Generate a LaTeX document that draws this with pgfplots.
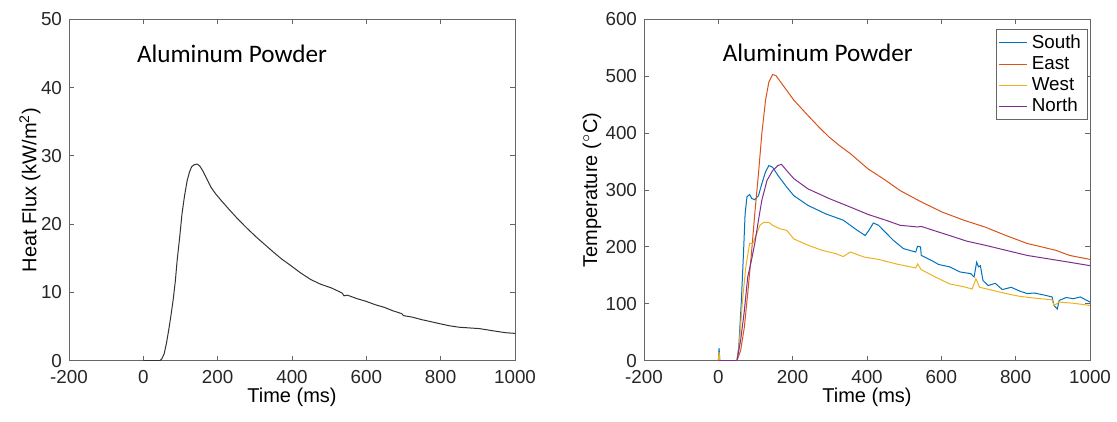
\documentclass[border=0pt]{standalone}
\usepackage{pgfplots}
\pgfplotsset{compat=1.18}
\usepackage{fontspec}
\setmainfont{Liberation Sans}
\newfontfamily\calfont{Carlito}

\definecolor{mblue}{rgb}{0,0.447,0.741}
\definecolor{morange}{rgb}{0.85,0.325,0.098}
\definecolor{myellow}{rgb}{0.929,0.694,0.125}
\definecolor{mpurple}{rgb}{0.494,0.184,0.556}

\pgfplotsset{
  mstyle/.style={
    scale only axis,
    width=223pt, height=170.7pt,
    anchor=south west,
    xmin=-200, xmax=1000,
    xtick={-200,0,200,400,600,800,1000},
    tick align=inside,
    major tick length=2.3pt,
    axis line style={black!60, line width=0.4pt},
    every tick/.style={black!60, line width=0.4pt},
    tick label style={font=\fontsize{9.4}{11}\selectfont, text=black!85},
    xticklabel style={yshift=-1.5pt},
    label style={font=\fontsize{10.5}{12}\selectfont, text=black!85},
    every axis x label/.style={at={(rel axis cs:0.5,0)}, anchor=center, yshift=-18.2pt},
    /pgf/number format/assume math mode=true,
    /pgf/number format/1000 sep={},
    scaled ticks=false,
    xlabel={Time (ms)},
  }
}

\begin{document}
\begin{tikzpicture}
\useasboundingbox (0,0) rectangle (558.5pt,211pt);

% left: heat flux
\begin{axis}[mstyle, at={(34.5pt,30.65pt)},
  ymin=0, ymax=50, ytick={0,10,20,30,40,50},
  every axis y label/.style={at={(rel axis cs:0,0.5)}, rotate=90, anchor=center, yshift=19.5pt},
  ylabel={Heat Flux (kW/m\textsuperscript{2})},
]
\addplot[black!80, line width=0.5pt] coordinates {
(0,0)(45,0)(50,0.3)(56,1)(62,2.5)(68,4.4)(74,6.5)(80,8.8)(86,11.6)(91,14.7)
(98,18.2)(104,21.5)(111,24.2)(118,26.4)(124,27.6)(130,28.4)(137,28.7)
(145,28.8)(152,28.5)(159,27.9)(170,26.7)(182,25.4)(195,24.4)(209,23.5)
(230,22.2)(250,21.0)(277,19.5)(304,18.1)(327,17.0)(350,15.9)(372,14.9)
(395,14.0)(422,12.9)(450,11.9)(477,11.2)(504,10.7)(520,10.3)(535,9.9)
(540,9.5)(549,9.6)(574,9.1)(599,8.7)(624,8.2)(649,7.8)(672,7.3)(695,6.9)
(700,6.6)(722,6.4)(750,6.0)(775,5.7)(799,5.4)(825,5.1)(850,4.9)(877,4.8)
(904,4.7)(927,4.5)(950,4.3)(975,4.1)(1000,4.0)
};
\node[anchor=base west, font=\calfont\fontsize{12.6}{14}\selectfont] at (axis cs:-36,43.7) {Aluminum Powder};
\end{axis}

% right: temperature
\begin{axis}[mstyle, at={(322pt,30.65pt)},
  ymin=0, ymax=600, ytick={0,100,200,300,400,500,600},
  every axis y label/.style={at={(rel axis cs:0,0.5)}, rotate=90, anchor=center, yshift=26pt},
  ylabel={Temperature ($^\circ$C)},
  legend cell align=left,
  legend style={at={(rel axis cs:0.994,0.971)}, anchor=north east,
    draw=black!60, line width=0.4pt, font=\fontsize{9.4}{11}\selectfont,
    inner xsep=1pt, inner ysep=0.5pt, row sep=-1.5pt},
  legend image code/.code={\draw[#1] (0cm,0cm) -- (0.5cm,0cm);},
]
\addplot[mblue, line width=0.5pt] coordinates {
(0,0)(2,22)(4,0)(50,0)(55,24)(62,106)(68,194)(72,258)(77,288)(84,292)(90,285)
(98,283)(108,290)(117,311)(127,332)(136,343)(146,340)(160,326)(184,305)
(203,290)(241,273)(289,258)(336,247)(374,229)(395,220)(405,229)(417,242)
(431,238)(470,212)(498,197)(531,191)(536,201)(544,200)(546,185)(574,176)
(593,169)(622,165)(650,156)(679,153)(688,147)(695,173)(700,165)(705,167)
(712,141)(726,132)(745,136)(764,125)(788,129)(812,122)(831,118)(850,119)
(879,115)(898,112)(903,97)(912,91)(917,106)(936,111)(955,109)(974,112)(1000,103)
};
\addlegendentry{South}
\addplot[morange, line width=0.5pt] coordinates {
(0,0)(50,0)(60,18)(70,59)(79,118)(89,188)(98,258)(108,329)(117,399)(127,458)
(136,490)(146,503)(155,501)(174,484)(203,458)(241,431)(270,411)(298,393)(326,378)(355,364)
(403,337)(450,317)(489,299)(546,279)(603,261)(660,247)(717,235)(774,220)
(831,206)(870,200)(908,194)(945,185)(1000,178)
};
\addlegendentry{East}
\addplot[myellow, line width=0.5pt] coordinates {
(0,0)(2,15)(4,0)(50,0)(55,18)(65,106)(74,165)(84,206)(93,206)(103,223)(112,238)
(122,243)(136,243)(146,238)(165,232)(184,229)(203,214)(241,203)(279,194)
(317,188)(336,183)(355,191)(393,182)(431,178)(479,170)(531,163)(536,170)
(546,160)(584,147)(622,135)(660,130)(683,126)(693,144)(703,129)(736,124)
(774,118)(812,113)(850,110)(898,107)(903,97)(917,103)(955,101)(1000,97)
};
\addlegendentry{West}
\addplot[mpurple, line width=0.5pt] coordinates {
(0,0)(50,0)(60,36)(70,88)(79,147)(89,176)(98,206)(108,247)(117,282)(131,317)
(146,334)(160,343)(170,345)(184,334)(203,320)(241,302)(298,285)(355,270)
(403,257)(450,247)(489,238)(536,235)(546,236)(574,230)(622,220)(669,210)
(717,203)(774,194)(831,185)(888,179)(945,173)(1000,167)
};
\addlegendentry{North}
\node[anchor=base west, font=\calfont\fontsize{12.6}{14}\selectfont] at (axis cs:-7,525) {Aluminum Powder};
\end{axis}
\end{tikzpicture}
\end{document}
